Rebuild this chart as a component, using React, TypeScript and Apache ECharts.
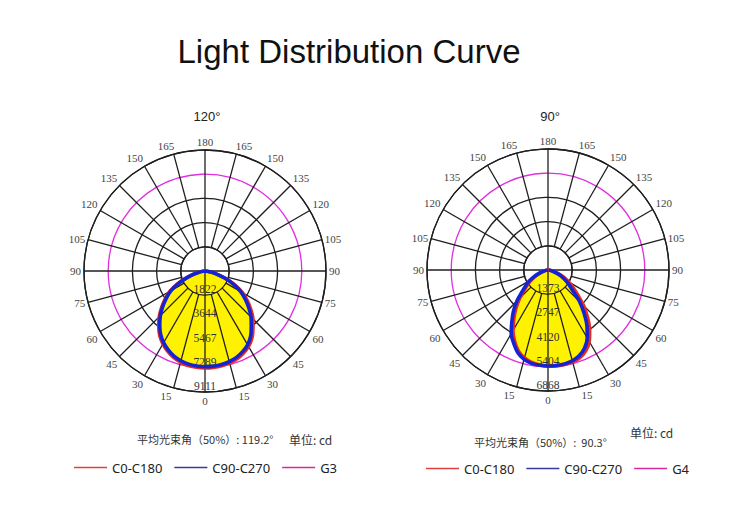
import React, { useEffect, useRef } from "react";
import * as echarts from "echarts";

// ---------- data ----------
const GAMMA = [0, 5, 10, 15, 20, 25, 30, 35, 40, 45, 50, 55, 60, 65, 70, 75, 80, 85, 90];

// Left chart (120°) – intensities (cd) per gamma
const L_C0 = [7300, 7290, 7250, 7170, 7040, 6830, 6560, 6160, 5620, 5100, 4500, 3880, 3250, 2500, 1700, 960, 480, 170, 0];
const L_C180 = [7300, 7280, 7220, 7100, 6920, 6660, 6340, 5940, 5420, 4870, 4260, 3650, 3040, 2280, 1460, 840, 420, 160, 0];
const L_C90 = [7200, 7190, 7150, 7060, 6920, 6700, 6420, 5990, 5420, 4900, 4300, 3700, 3100, 2380, 1600, 900, 450, 160, 0];
const L_C270 = [7200, 7180, 7120, 7000, 6820, 6560, 6230, 5820, 5300, 4750, 4150, 3550, 2950, 2200, 1400, 800, 400, 150, 0];

// Right chart (90°)
const R_C0 = [5470, 5470, 5450, 5400, 5290, 5060, 4680, 4120, 3480, 2850, 2200, 1720, 1340, 1000, 660, 380, 170, 50, 0];
const R_C180 = [5450, 5410, 5330, 5170, 4900, 4480, 3980, 3380, 2830, 2280, 1750, 1380, 1050, 740, 450, 240, 100, 30, 0];
const R_C90 = [5450, 5440, 5410, 5330, 5180, 4900, 4450, 3850, 3170, 2530, 1850, 1450, 1120, 820, 520, 280, 120, 40, 0];
const R_C270 = [5450, 5430, 5380, 5250, 5000, 4600, 4180, 3580, 3050, 2500, 1920, 1550, 1200, 850, 520, 280, 120, 40, 0];

const L_MAX = 9111;
const R_MAX = 6868;
const L_RADIUS_LABELS = ["1822", "3644", "5467", "7289", "9111"];
const R_RADIUS_LABELS = ["1373", "2747", "4120", "5404", "6868"];
const ANGLE_LABELS = [
  "0", "15", "30", "45", "60", "75", "90", "105", "120", "135", "150", "165",
  "180", "165", "150", "135", "120", "105", "90", "75", "60", "45", "30", "15",
];
const LEGEND_L = ["C0-C180", "C90-C270", "G3"];
const LEGEND_R = ["C0-C180", "C90-C270", "G4"];

// ---------- styles ----------
const RED = "#ea2a1e";
const BLUE = "#1424d4";
const MAGENTA = "#e02ee0";
const YELLOW = "#fff200";
const GRID = "#1e1e1e";
const LEG_COLORS = ["#e04040", "#3a3a9a", "#d8289c"];
const SERIF = "'Liberation Serif', 'DejaVu Serif', serif";
const SANS = "'Liberation Sans', Arial, sans-serif";
const CJK = "'Noto Sans CJK SC', 'Noto Sans', sans-serif";

function plane(rightVals: number[], leftVals: number[]) {
  const pts: number[][] = [];
  for (let i = GAMMA.length - 1; i >= 0; i--) pts.push([leftVals[i], 360 - GAMMA[i]]);
  for (let i = 1; i < GAMMA.length; i++) pts.push([rightVals[i], GAMMA[i]]);
  return pts;
}

function angleFormatter(v: number) {
  const i = Math.round(v / 15);
  if (i >= ANGLE_LABELS.length) return "";
  const t = ANGLE_LABELS[i];
  if (v === 15 || v === 165) return `{r|${t}}`;
  if (v === 195 || v === 345) return `{l|${t}}`;
  return t;
}

function buildChart(
  base: number,
  labelPolar: number,
  max: number,
  labels: string[],
  red: number[][],
  blue: number[][],
  refName: string
) {
  const step = max / 5;
  const angleAxes = [
    {
      polarIndex: base,
      type: "value",
      min: 0,
      max: 360,
      interval: 15,
      startAngle: 270,
      clockwise: false,
      z: 1,
      axisLine: { show: true, lineStyle: { color: GRID, width: 1.3 } },
      axisTick: { show: false },
      splitLine: { show: false },
      axisLabel: {
        margin: 3,
        fontFamily: SERIF,
        fontSize: 11,
        color: "#444",
        formatter: angleFormatter,
        rich: {
          l: { padding: [0, 14, 0, 0], fontFamily: SERIF, fontSize: 11, color: "#444" },
          r: { padding: [0, 0, 0, 14], fontFamily: SERIF, fontSize: 11, color: "#444" },
        },
      },
    },
    {
      polarIndex: labelPolar,
      type: "value",
      min: 0,
      max: 360,
      interval: 15,
      startAngle: 270,
      clockwise: false,
      show: false,
    },
  ];
  const radiusAxes = [
    {
      polarIndex: base,
      type: "value",
      min: 0,
      max,
      interval: step,
      z: 0,
      axisLine: { show: false },
      axisTick: { show: false },
      axisLabel: { show: false },
      splitLine: {
        show: true,
        lineStyle: { color: [GRID, GRID, GRID, GRID, MAGENTA, GRID], width: 1.3 },
      },
    },
    {
      polarIndex: labelPolar,
      type: "value",
      min: 0,
      max,
      interval: step,
      z: 10,
      axisLine: { show: false },
      axisTick: { show: false },
      splitLine: { show: false },
      axisLabel: {
        show: true,
        margin: 0,
        align: "center",
        verticalAlign: "bottom",
        fontFamily: SERIF,
        fontSize: 11.5,
        color: "#333",
        formatter: (v: number) => {
          const i = Math.round(v / step) - 1;
          return i >= 0 && i < labels.length ? labels[i] : "";
        },
      },
    },
  ];
  const spokeData: number[][] = [];
  for (let a = 0; a < 360; a += 15) spokeData.push([max, a]);

  const series: any[] = [
    {
      type: "line",
      name: "fill-red",
      coordinateSystem: "polar",
      polarIndex: base,
      z: 2,
      data: red,
      symbol: "none",
      smooth: 0.25,
      silent: true,
      lineStyle: { width: 0 },
      areaStyle: { color: YELLOW, opacity: 1 },
    },
    {
      type: "line",
      name: "fill-blue",
      coordinateSystem: "polar",
      polarIndex: base,
      z: 2,
      data: blue,
      symbol: "none",
      smooth: 0.25,
      silent: true,
      lineStyle: { width: 0 },
      areaStyle: { color: YELLOW, opacity: 1 },
    },
    {
      type: "custom",
      name: "spokes",
      coordinateSystem: "polar",
      polarIndex: base,
      z: 3,
      silent: true,
      data: spokeData,
      renderItem: (params: any, api: any) => {
        const rEnd = api.value(0);
        const a = api.value(1);
        const rStart = a % 90 === 0 ? 0 : step;
        const p1 = api.coord([rStart, a]);
        const p2 = api.coord([rEnd, a]);
        return {
          type: "line",
          shape: { x1: p1[0], y1: p1[1], x2: p2[0], y2: p2[1] },
          style: { stroke: GRID, lineWidth: 1.3 },
        };
      },
    },
    {
      type: "custom",
      name: "inner-ring",
      coordinateSystem: "polar",
      polarIndex: base,
      z: 3,
      silent: true,
      data: [[step, 0]],
      renderItem: (params: any, api: any) => {
        const c = api.coord([0, 0]);
        const p = api.coord([api.value(0), 0]);
        const r = Math.hypot(p[0] - c[0], p[1] - c[1]);
        return {
          type: "circle",
          shape: { cx: c[0], cy: c[1], r },
          style: { fill: "none", stroke: GRID, lineWidth: 1.3 },
        };
      },
    },
    {
      type: "line",
      name: "C0-C180",
      coordinateSystem: "polar",
      polarIndex: base,
      z: 4,
      data: red,
      symbol: "none",
      smooth: 0.25,
      itemStyle: { color: RED },
      lineStyle: { color: RED, width: 3.6 },
    },
    {
      type: "line",
      name: "C90-C270",
      coordinateSystem: "polar",
      polarIndex: base,
      z: 5,
      data: blue,
      symbol: "none",
      smooth: 0.25,
      itemStyle: { color: BLUE },
      lineStyle: { color: BLUE, width: 3.6 },
    },
    {
      type: "line",
      name: refName,
      coordinateSystem: "polar",
      polarIndex: base,
      data: [],
      symbol: "none",
      itemStyle: { color: MAGENTA },
      lineStyle: { color: MAGENTA, width: 1.5 },
    },
  ];
  return { angleAxes, radiusAxes, series };
}

function legendOf(names: string[], left: number, top: number, gap: number) {
  return {
    left,
    top,
    orient: "horizontal",
    icon: "rect",
    itemWidth: 33,
    itemHeight: 1.6,
    itemGap: gap,
    padding: 0,
    selectedMode: false,
    textStyle: { fontFamily: "'Noto Sans', sans-serif", fontSize: 13, color: "#222" },
    data: names.map((n, i) => ({ name: n, itemStyle: { color: LEG_COLORS[i] } })),
  };
}

export default function App() {
  const ref = useRef<HTMLDivElement>(null);
  useEffect(() => {
    if (!ref.current) return;
    const chart = echarts.init(ref.current, null, { renderer: "svg" });
    const left = buildChart(0, 1, L_MAX, L_RADIUS_LABELS, plane(L_C0, L_C180), plane(L_C90, L_C270), "G3");
    const right = buildChart(2, 3, R_MAX, R_RADIUS_LABELS, plane(R_C0, R_C180), plane(R_C90, R_C270), "G4");
    const option: any = {
      animation: false,
      backgroundColor: "#ffffff",
      polar: [
        { center: [205, 271], radius: 121 },
        { center: [205, 271], radius: 121 },
        { center: [548, 270], radius: 121 },
        { center: [548, 270], radius: 121 },
      ],
      angleAxis: [...left.angleAxes, ...right.angleAxes],
      radiusAxis: [...left.radiusAxes, ...right.radiusAxes],
      series: [...left.series, ...right.series],
      legend: [legendOf(LEGEND_L, 74, 461, 12), legendOf(LEGEND_R, 426, 462, 12)],
      graphic: [
        {
          type: "text",
          x: 349,
          y: 51,
          style: { text: "Light Distribution Curve", align: "center", verticalAlign: "middle", fontFamily: SANS, fontSize: 33, fill: "#111" },
        },
        {
          type: "text",
          x: 207,
          y: 116,
          style: { text: "120°", align: "center", verticalAlign: "middle", fontFamily: SANS, fontSize: 13, fill: "#222" },
        },
        {
          type: "text",
          x: 550,
          y: 116,
          style: { text: "90°", align: "center", verticalAlign: "middle", fontFamily: SANS, fontSize: 13, fill: "#222" },
        },
        {
          type: "text",
          x: 137,
          y: 439,
          style: { text: "平均光束角（50%）: 119.2°", align: "left", verticalAlign: "middle", fontFamily: CJK, fontSize: 11, fill: "#333" },
        },
        {
          type: "text",
          x: 289,
          y: 439,
          style: { text: "单位: cd", align: "left", verticalAlign: "middle", fontFamily: CJK, fontSize: 12, fill: "#333" },
        },
        {
          type: "text",
          x: 474,
          y: 442,
          style: { text: "平均光束角（50%）:  90.3°", align: "left", verticalAlign: "middle", fontFamily: CJK, fontSize: 11, fill: "#333" },
        },
        {
          type: "text",
          x: 630,
          y: 432,
          style: { text: "单位: cd", align: "left", verticalAlign: "middle", fontFamily: CJK, fontSize: 12, fill: "#333" },
        },
      ],
    };
    chart.setOption(option);
    return () => chart.dispose();
  }, []);
  return (
    <div
      ref={ref}
      style={{ position: "fixed", left: 0, top: 0, width: 750, height: 519, background: "#fff" }}
    />
  );
}
